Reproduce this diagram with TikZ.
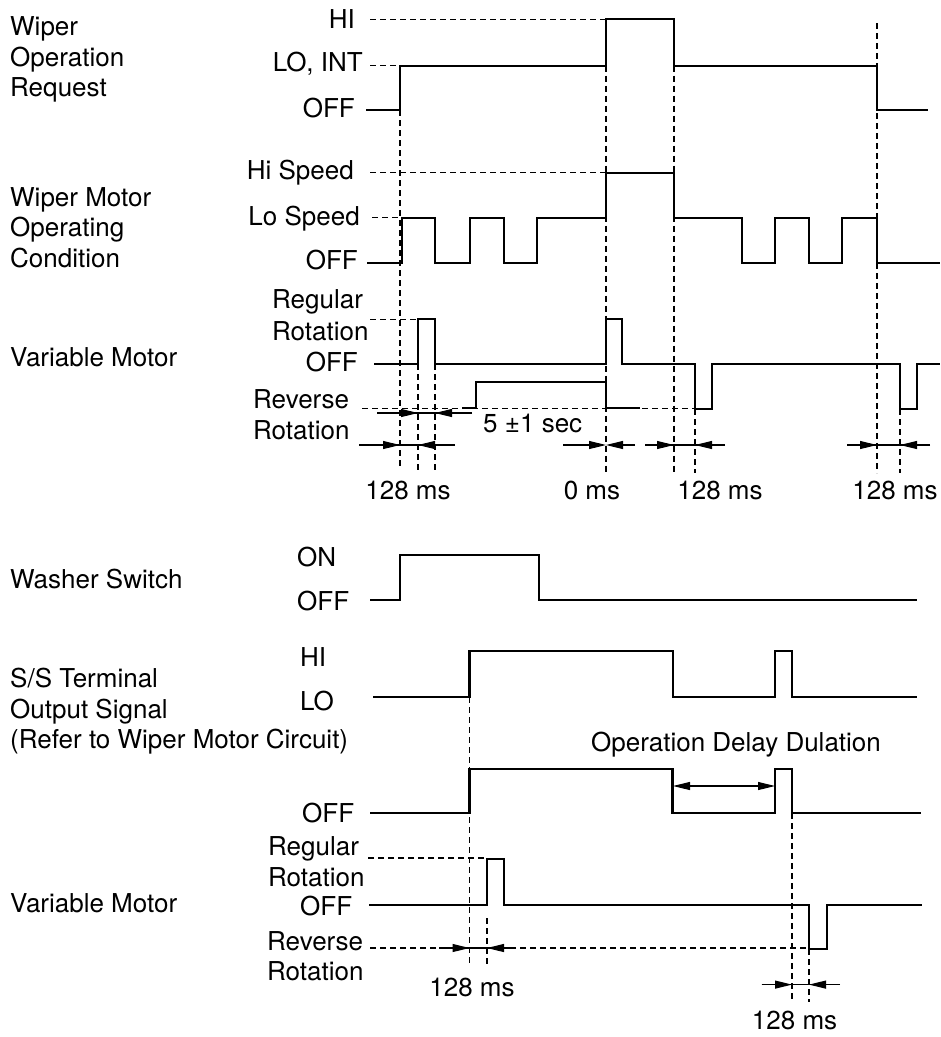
\documentclass[tikz,border=0pt]{standalone}
\usepackage{fontspec}
\setmainfont{TeX Gyre Heros}
\usetikzlibrary{arrows.meta}
\begin{document}
\begin{tikzpicture}[x=1pt,y=-1pt,
  sig/.style={line width=2.1pt},
  dsh/.style={line width=1.1pt,dash pattern=on 6pt off 4pt},
  dimline/.style={line width=1.1pt},
  tipped/.style={line width=1.1pt,-{Triangle[length=17pt,width=8pt]}},
  both/.style={line width=1.1pt,{Triangle[length=17pt,width=8pt]}-{Triangle[length=17pt,width=8pt]}},
  lbl/.style={inner sep=0pt,font=\fontsize{26}{31}\selectfont},
]
\useasboundingbox (0,0) rectangle (941,1037);

% ---------------- left labels (top) ----------------
\node[lbl,anchor=base west] (w1) at (10,35) {Wiper};
\node[lbl,anchor=base west] (w2) at (10,66.7) {Operation};
\node[lbl,anchor=base west] (w3) at (10,96.7) {Request};
\node[lbl,anchor=base west] (m1) at (10,206.7) {Wiper Motor};
\node[lbl,anchor=base west] (m2) at (10,236.7) {Operating};
\node[lbl,anchor=base west] (m3) at (10,267.3) {Condition};
\node[lbl,anchor=base west] (v1) at (10,366.7) {Variable Motor};

% level labels (top)
\node[lbl,anchor=base east] (lhi) at (355,28.3) {HI};
\node[lbl,anchor=base east] (llo) at (363,71.7) {LO, INT};
\node[lbl,anchor=base east] (loff1) at (355,117.3) {OFF};
\node[lbl,anchor=base east] (lhs) at (354,179.3) {Hi Speed};
\node[lbl,anchor=base east] (lls) at (360,225) {Lo Speed};
\node[lbl,anchor=base east] (loff2) at (358,269.3) {OFF};
\node[lbl,anchor=base west] (lreg1) at (272,308.3) {Regular};
\node[lbl,anchor=base west] (lrot1) at (272,340) {Rotation};
\node[lbl,anchor=base east] (loff3) at (358,371.7) {OFF};
\node[lbl,anchor=base west] (lrev1) at (253,408.3) {Reverse};
\node[lbl,anchor=base west] (lrot2) at (253,439.3) {Rotation};

% ---------------- top signals ----------------
\draw[dsh] (370,19.3) -- (606,19.3);
\draw[dsh] (370,65.7) -- (400,65.7);
\draw[dsh] (370,172.7) -- (606,172.7);
\draw[dsh] (372,217.7) -- (400,217.7);
\draw[dsh] (370,319.3) -- (418,319.3);
\draw[dsh] (362,408.3) -- (695,408.3);

\draw[dsh] (400,110) -- (400,468);
\draw[dsh] (606,65.7) -- (606,473);
\draw[dsh] (674,65.7) -- (674,473);
\draw[dsh] (877,23) -- (877,473);
\draw[dsh] (418,364) -- (418,470);
\draw[dsh] (435,364) -- (435,470);
\draw[dsh] (695,409) -- (695,473);
\draw[dsh] (900,409) -- (900,473);

\draw[sig] (366,110) -- (400,110) -- (400,65.7) -- (606,65.7) -- (606,19.3)
  -- (674,19.3) -- (674,65.7) -- (877,65.7) -- (877,110) -- (928,110);

\draw[sig] (367,262.7) -- (402,262.7) -- (402,217.7) -- (435,217.7) -- (435,262.7)
  -- (470,262.7) -- (470,217.7) -- (504,217.7) -- (504,262.7) -- (537,262.7)
  -- (537,217.7) -- (606,217.7) -- (606,172.7) -- (674,172.7) -- (674,217.7)
  -- (742,217.7) -- (742,262.7) -- (775,262.7) -- (775,217.7) -- (809,217.7)
  -- (809,262.7) -- (842,262.7) -- (842,217.7) -- (877,217.7) -- (877,262.7)
  -- (940,262.7);

\draw[sig] (374,364) -- (418,364) -- (418,319.3) -- (435,319.3) -- (435,364)
  -- (606,364) -- (606,319.3) -- (622,319.3) -- (622,364) -- (695,364)
  -- (695,409) -- (712,409) -- (712,364) -- (900,364) -- (900,409)
  -- (917,409) -- (917,364) -- (940,364);

\draw[sig] (462,408.3) -- (476,408.3) -- (476,381.7) -- (606,381.7) -- (606,408.3) -- (640,408.3);

% dimension arrows (top)
\draw[dimline] (377,413) -- (472,413);
\draw[tipped] (377,413) -- (418,413);
\draw[tipped] (472,413) -- (435,413);

\draw[dimline] (359,445) -- (455,445);
\draw[tipped] (359,445) -- (400,445);
\draw[tipped] (455,445) -- (418,445);

\draw[tipped] (563,445) -- (606,445);
\draw[tipped] (635,445) -- (606,445);

\draw[dimline] (645,445) -- (725,445);
\draw[tipped] (645,445) -- (674,445);
\draw[tipped] (725,445) -- (695,445);

\draw[dimline] (847,445) -- (930,445);
\draw[tipped] (847,445) -- (877,445);
\draw[tipped] (930,445) -- (900,445);

\node[lbl,anchor=base west] (t5) at (483,432) {5 ±1 sec};
\node[lbl,anchor=base] (t128a) at (408,499) {128 ms};
\node[lbl,anchor=base] (t0) at (592,499) {0 ms};
\node[lbl,anchor=base] (t128b) at (720,499) {128 ms};
\node[lbl,anchor=base] (t128c) at (895,499) {128 ms};

% ---------------- left labels (bottom) ----------------
\node[lbl,anchor=base west] (ws) at (10,588.3) {Washer Switch};
\node[lbl,anchor=base west] (ss1) at (10,687.3) {S/S Terminal};
\node[lbl,anchor=base west] (ss2) at (10,718.3) {Output Signal};
\node[lbl,anchor=base west] (ss3) at (10,748.3) {(Refer to Wiper Motor Circuit)};
\node[lbl,anchor=base west] (v2) at (10,912.3) {Variable Motor};

\node[lbl,anchor=base west] (lon) at (297,566.7) {ON};
\node[lbl,anchor=base west] (loff4) at (297,610.7) {OFF};
\node[lbl,anchor=base west] (lhi2) at (300,666.7) {HI};
\node[lbl,anchor=base west] (llo2) at (300,710.7) {LO};
\node[lbl,anchor=base west] (loff5) at (302,822.7) {OFF};
\node[lbl,anchor=base west] (lreg2) at (268,855) {Regular};
\node[lbl,anchor=base west] (lrot3) at (268,886) {Rotation};
\node[lbl,anchor=base west] (loff6) at (300,915) {OFF};
\node[lbl,anchor=base west] (lrev2) at (267,950) {Reverse};
\node[lbl,anchor=base west] (lrot4) at (267,980) {Rotation};

% ---------------- bottom signals ----------------
\draw[dsh] (368,858) -- (487,858);
\draw[dsh] (370,948) -- (809,948);
\draw[dsh] (469.5,697) -- (469.5,966);
\draw[dsh] (487,918) -- (487,966);
\draw[dsh] (792,813) -- (792,1002);
\draw[dsh] (809,949) -- (809,1002);

\draw[sig] (370,600) -- (400,600) -- (400,555) -- (539,555) -- (539,600) -- (917,600);

\draw[sig] (373,697) -- (469.5,697) -- (469.5,651) -- (673,651) -- (673,697)
  -- (775,697) -- (775,651) -- (792,651) -- (792,697) -- (917,697);

\draw[sig] (370,813) -- (469.5,813) -- (469.5,769) -- (672.5,769) -- (672.5,813)
  -- (775,813) -- (775,769) -- (792,769) -- (792,813) -- (921,813);

\draw[sig] (369,905) -- (487,905) -- (487,859) -- (504,859) -- (504,905)
  -- (809,905) -- (809,949) -- (827,949) -- (827,905) -- (922,905);

\node[lbl,anchor=base west] (tod) at (591,751.7) {Operation Delay Dulation};
\draw[both] (673,786) -- (775,786);

\draw[dimline] (439,948) -- (516,948);
\draw[tipped] (439,948) -- (469.5,948);
\draw[tipped] (516,948) -- (487,948);

\draw[dimline] (761.6,984.6) -- (840,984.6);
\draw[tipped] (761.6,984.6) -- (792,984.6);
\draw[tipped] (840,984.6) -- (809,984.6);

\node[lbl,anchor=base] (t128d) at (472,996.6) {128 ms};
\node[lbl,anchor=base] (t128e) at (794.6,1029) {128 ms};
\end{tikzpicture}
\end{document}
